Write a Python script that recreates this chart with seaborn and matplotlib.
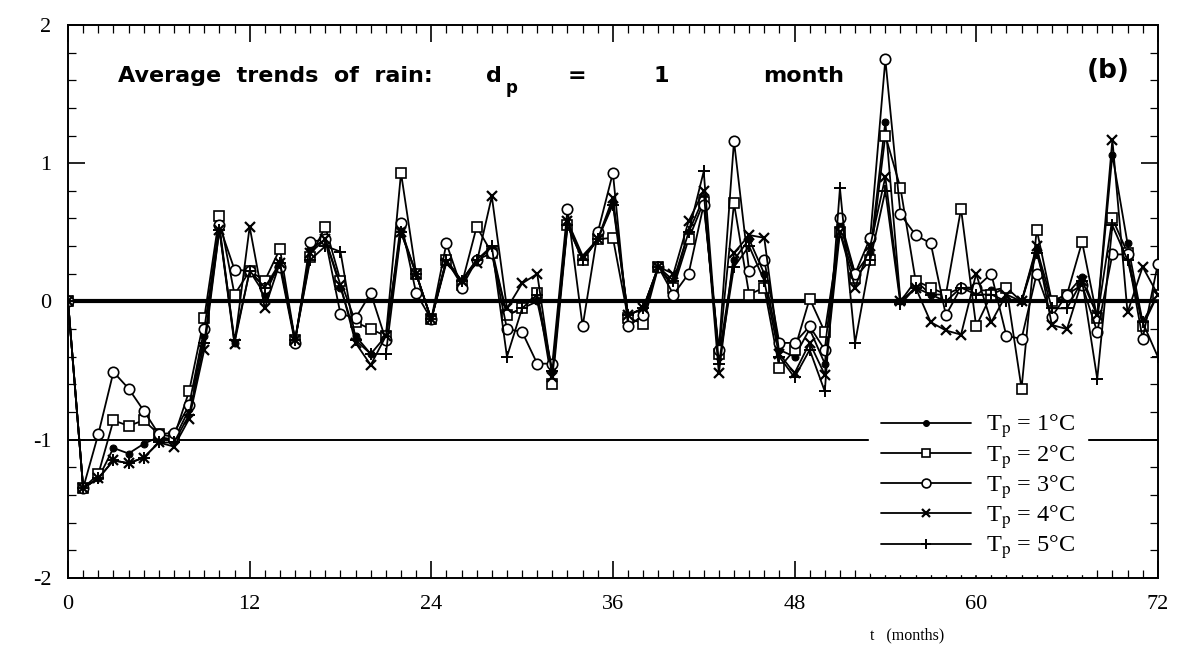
import numpy as np
import pandas as pd
import matplotlib
matplotlib.use("Agg")
import matplotlib.pyplot as plt
from matplotlib.ticker import MultipleLocator
import seaborn as sns

# months 0..72
months = list(range(73))

tp1 = [0, -1.35, -1.28, -1.06, -1.10, -1.03, -0.98, -1.00, -0.78, -0.25,
       0.55, -0.30, 0.22, 0.05, 0.28, -0.28, 0.38, 0.45, 0.10, -0.25,
       -0.38, -0.25, 0.52, 0.20, -0.13, 0.30, 0.15, 0.30, 0.38, -0.10,
       -0.05, 0.00, -0.50, 0.58, 0.30, 0.45, 0.72, -0.10, -0.05, 0.25,
       0.12, 0.50, 0.75, -0.40, 0.30, 0.45, 0.20, -0.35, -0.40, -0.20,
       -0.45, 0.55, 0.20, 0.35, 1.30, 0.00, 0.15, 0.05, 0.05, 0.10,
       0.08, 0.08, 0.10, 0.00, 0.38, 0.00, 0.05, 0.18, -0.10, 1.06,
       0.42, -0.15, 0.05]

tp2 = [0, -1.35, -1.25, -0.86, -0.90, -0.86, -0.96, -0.98, -0.65, -0.12,
       0.62, 0.05, 0.22, 0.15, 0.38, -0.28, 0.32, 0.54, 0.15, -0.15,
       -0.20, -0.25, 0.93, 0.20, -0.13, 0.30, 0.12, 0.54, 0.35, -0.10,
       -0.05, 0.06, -0.60, 0.55, 0.30, 0.45, 0.46, -0.12, -0.16, 0.25,
       0.10, 0.45, 0.72, -0.38, 0.71, 0.05, 0.10, -0.48, -0.35, 0.02,
       -0.22, 0.50, 0.17, 0.30, 1.20, 0.82, 0.15, 0.10, 0.05, 0.67,
       -0.18, 0.05, 0.10, -0.63, 0.52, 0.00, 0.05, 0.43, -0.12, 0.60,
       0.35, -0.18, 0.05]

tp3 = [0, -1.35, -0.96, -0.51, -0.63, -0.79, -0.96, -0.95, -0.75, -0.20,
       0.55, 0.23, 0.22, 0.10, 0.25, -0.30, 0.43, 0.45, -0.09, -0.12,
       0.06, -0.28, 0.57, 0.06, -0.13, 0.42, 0.10, 0.30, 0.35, -0.20,
       -0.22, -0.45, -0.45, 0.67, -0.18, 0.50, 0.93, -0.18, -0.10, 0.25,
       0.05, 0.20, 0.70, -0.35, 1.16, 0.22, 0.30, -0.30, -0.30, -0.18,
       -0.35, 0.60, 0.20, 0.46, 1.75, 0.63, 0.48, 0.42, -0.10, 0.10,
       0.10, 0.20, -0.25, -0.27, 0.20, -0.11, 0.05, 0.12, -0.22, 0.34,
       0.34, -0.27, 0.27]

tp4 = [0, -1.35, -1.28, -1.15, -1.17, -1.13, -1.02, -1.05, -0.85, -0.35,
       0.52, -0.31, 0.54, -0.05, 0.28, -0.28, 0.35, 0.45, 0.12, -0.30,
       -0.46, -0.25, 0.50, 0.20, -0.13, 0.28, 0.15, 0.28, 0.76, -0.05,
       0.13, 0.20, -0.55, 0.58, 0.33, 0.45, 0.75, -0.10, -0.05, 0.25,
       0.20, 0.58, 0.80, -0.52, 0.35, 0.48, 0.46, -0.38, -0.52, -0.30,
       -0.53, 0.50, 0.10, 0.40, 0.90, 0.00, 0.10, -0.15, -0.21, -0.24,
       0.20, -0.15, 0.05, 0.00, 0.40, -0.17, -0.20, 0.15, -0.10, 1.17,
       -0.08, 0.25, 0.05]

tp5 = [0, -1.35, -1.28, -1.15, -1.17, -1.13, -1.02, -1.02, -0.82, -0.30,
       0.52, -0.28, 0.22, 0.10, 0.28, -0.28, 0.30, 0.40, 0.36, -0.28,
       -0.38, -0.38, 0.50, 0.20, -0.13, 0.30, 0.15, 0.30, 0.40, -0.40,
       -0.05, 0.05, -0.50, 0.55, 0.30, 0.45, 0.70, -0.10, -0.05, 0.25,
       0.15, 0.50, 0.94, -0.45, 0.25, 0.40, 0.15, -0.40, -0.55, -0.35,
       -0.65, 0.82, -0.30, 0.30, 0.80, -0.02, 0.10, 0.05, 0.00, 0.10,
       0.05, 0.05, 0.00, 0.00, 0.35, -0.05, -0.05, 0.15, -0.56, 0.55,
       0.30, -0.15, -0.40]

series = [tp1, tp2, tp3, tp4, tp5]
labels = [r"T$_{\rm p}$ = %d°C" % k for k in range(1, 6)]
marker_styles = [
    dict(marker="o", markersize=5, markerfacecolor="black"),
    dict(marker="s", markersize=6.5, markerfacecolor="white", markeredgewidth=1.2),
    dict(marker="o", markersize=7.5, markerfacecolor="white", markeredgewidth=1.2),
    dict(marker="x", markersize=7, markeredgewidth=1.6),
    dict(marker="+", markersize=8, markeredgewidth=1.4),
]

sns.set_style("ticks")
plt.rcParams["font.family"] = ["Liberation Serif", "DejaVu Serif"]
plt.rcParams["mathtext.fontset"] = "stix"
for key in ["text.color", "axes.labelcolor", "xtick.color", "ytick.color",
            "axes.edgecolor"]:
    plt.rcParams[key] = "black"

fig = plt.figure(figsize=(11.79, 6.55), dpi=100)
ax = fig.add_axes([0.0577, 0.1176, 0.9243, 0.8444])

ax.axhline(0, color="black", lw=3.0, zorder=1)
ax.axhline(-1, color="black", lw=1.4, zorder=1)

for vals, lab, ms in zip(series, labels, marker_styles):
    sns.lineplot(x=months, y=vals, ax=ax, color="black", lw=1.3,
                 markeredgecolor="black", label=lab, zorder=3, **ms)

ax.set_xlim(0, 72)
ax.set_ylim(-2, 2)
ax.xaxis.set_major_locator(MultipleLocator(12))
ax.xaxis.set_minor_locator(MultipleLocator(1))
ax.yaxis.set_major_locator(MultipleLocator(1))
ax.yaxis.set_minor_locator(MultipleLocator(0.2))
ax.tick_params(which="both", direction="in", top=True, right=True,
               labelsize=16, pad=12)
ax.tick_params(which="major", length=12, width=1.2)
ax.tick_params(which="minor", length=6, width=0.9)
for sp in ax.spines.values():
    sp.set_linewidth(1.4)

ax.set_yticks([-2, -1, 0, 1, 2])
ax.set_yticklabels(["-2", "-1", "0", "1", "2"])

ax.set_xlabel("t   (months)", fontsize=11.5)
ax.xaxis.set_label_coords(0.77, -0.09)
ax.set_ylabel("")

bold = dict(fontweight="bold", family="DejaVu Sans", va="center")
ax.text(3.3, 1.63, "Average  trends  of  rain:", fontsize=16, **bold)
ax.text(27.6, 1.63, "d", fontsize=16, **bold)
ax.text(28.9, 1.54, "p", fontsize=12, **bold)
ax.text(33.6, 1.63, "=", fontsize=16, ha="center", **bold)
ax.text(39.2, 1.63, "1", fontsize=16, ha="center", **bold)
ax.text(51.3, 1.63, "month", fontsize=16, ha="right", **bold)
ax.text(67.3, 1.67, "(b)", fontsize=19, **bold)

leg = ax.legend(loc="lower right", bbox_to_anchor=(0.935, 0.008), frameon=True,
                fontsize=17.5, handlelength=3.7, labelspacing=0.1,
                handletextpad=0.6, borderpad=0.5, borderaxespad=0,
                markerscale=0.85)
leg.get_frame().set_facecolor("white")
leg.get_frame().set_edgecolor("white")
leg.get_frame().set_alpha(1)
leg.set_zorder(5)

fig.savefig("out.png", dpi=100)
